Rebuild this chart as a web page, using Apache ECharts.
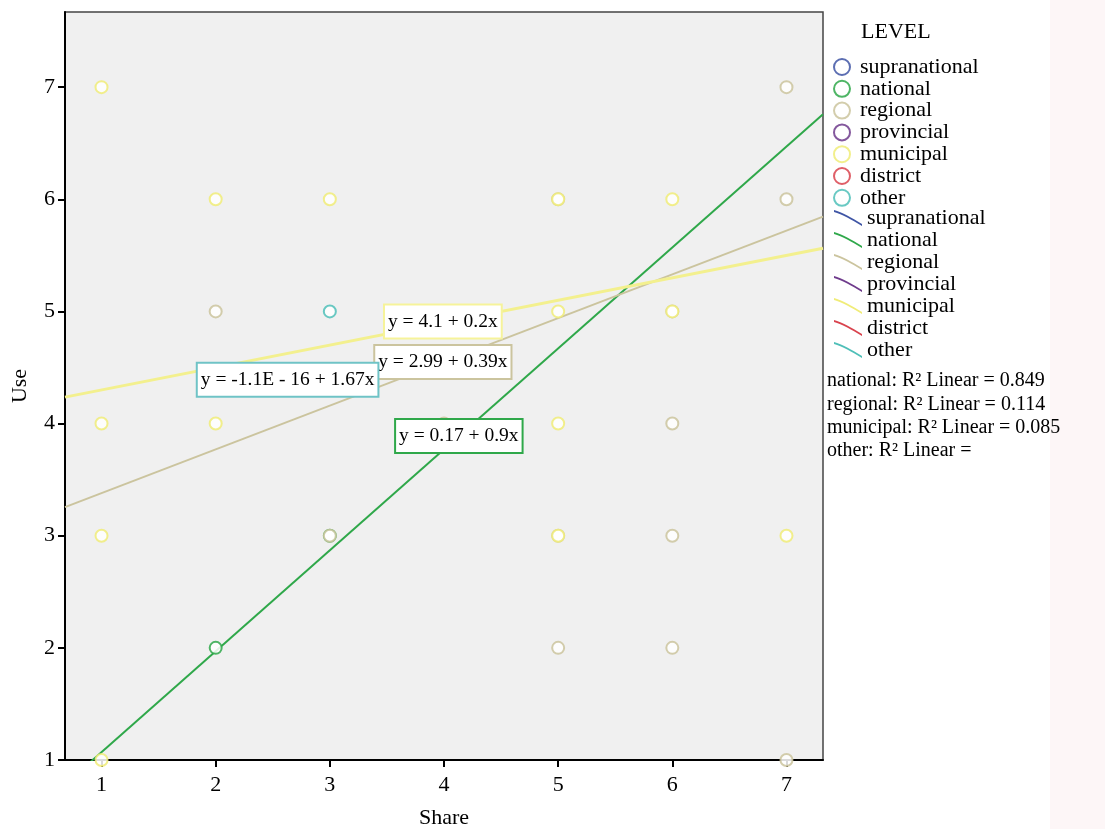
<!DOCTYPE html>
<html>
<head>
<meta charset="utf-8">
<script src="https://cdn.jsdelivr.net/npm/echarts@6.0.0/dist/echarts.min.js"></script>
<style>
  html, body { margin: 0; padding: 0; background: #fff; }
  #main { width: 1105px; height: 829px; }
</style>
</head>
<body>
<div id="main"></div>
<script>
  // groups (LEVEL)
  const levels = ['supranational', 'national', 'regional', 'provincial', 'municipal', 'district', 'other'];
  const levelColors = ['#3f55a5', '#2fa84a', '#cbc49e', '#6f3b8c', '#f0ec78', '#d9434e', '#4fbfb8'];

  // observed points [Share, Use]
  const nationalPts = [[2, 2], [3, 3]];
  const regionalPts = [[7, 7], [5, 6], [7, 6], [2, 5], [6, 5], [4, 4], [6, 4], [3, 3], [5, 3], [6, 3], [5, 2], [6, 2], [7, 1]];
  const municipalPts = [[1, 7], [2, 6], [3, 6], [5, 6], [6, 6], [5, 5], [6, 5], [1, 4], [2, 4], [5, 4], [1, 3], [5, 3], [7, 3], [1, 1]];
  const otherPts = [[3, 5]];

  // fitted lines: intercept, slope
  const fitLevels = ['national', 'regional', 'municipal'];
  const fitIntercepts = [0.17, 2.99, 4.1];
  const fitSlopes = [0.9, 0.39, 0.2];
  const fitLabels = ['y = 0.17 + 0.9x', 'y = 2.99 + 0.39x', 'y = 4.1 + 0.2x'];
  const otherLabel = 'y = -1.1E - 16 + 1.67x';
  const r2Lines = ['national: R\u00b2 Linear = 0.849', 'regional: R\u00b2 Linear = 0.114', 'municipal: R\u00b2 Linear = 0.085', 'other: R\u00b2 Linear ='];

  // ticks
  const xTicks = [1, 2, 3, 4, 5, 6, 7];
  const yTicks = [1, 2, 3, 4, 5, 6, 7];

  const xMin = 0.68, xMax = 7.32, yMin = 1, yMax = 7.67;
  // where the equation boxes sit (data coords)
  const labelAt = { national: [4.13, 3.89], regional: [3.99, 4.55], municipal: [3.99, 4.91], other: [2.63, 4.39] };

  const serif = 'Liberation Serif, Times New Roman, serif';
  const pointsOf = { national: nationalPts, regional: regionalPts, municipal: municipalPts, other: otherPts };

  function eqLabel(text, color) {
    return {
      show: true,
      position: 'inside',
      formatter: text,
      color: '#000',
      fontFamily: serif,
      fontSize: 19.5,
      backgroundColor: '#fff',
      borderColor: color,
      borderWidth: 2,
      padding: [7, 3, 5, 3]
    };
  }

  const series = [];
  // circles
  levels.forEach(function (lv, i) {
    const s = {
      name: lv,
      type: 'scatter',
      symbol: 'emptyCircle',
      symbolSize: 12,
      data: pointsOf[lv] || [],
      itemStyle: { color: levelColors[i], borderColor: levelColors[i], borderWidth: 2, opacity: 0.85 },
      z: 3
    };
    if (lv === 'other') {
      s.markPoint = {
        symbol: 'rect',
        symbolSize: 1,
        itemStyle: { color: 'rgba(0,0,0,0)' },
        label: eqLabel(otherLabel, '#6fc3c6'),
        data: [{ coord: labelAt.other }],
        z: 9
      };
    }
    series.push(s);
  });
  // fit lines
  levels.forEach(function (lv, i) {
    const k = fitLevels.indexOf(lv);
    const s = {
      name: lv + ' line',
      type: 'line',
      showSymbol: false,
      clip: true,
      color: levelColors[i],
      lineStyle: { color: lv === 'municipal' ? '#f3f08e' : levelColors[i], width: lv === 'municipal' ? 3 : 2 },
      data: [],
      z: 2
    };
    if (k >= 0) {
      s.data = [
        [xMin, fitIntercepts[k] + fitSlopes[k] * xMin],
        [xMax, fitIntercepts[k] + fitSlopes[k] * xMax]
      ];
      s.markPoint = {
        symbol: 'rect',
        symbolSize: 1,
        itemStyle: { color: 'rgba(0,0,0,0)' },
        label: eqLabel(fitLabels[k], lv === 'municipal' ? '#f6f39a' : levelColors[i]),
        data: [{ coord: labelAt[lv] }],
        z: 8
      };
    }
    series.push(s);
  });

  const chart = echarts.init(document.getElementById('main'));
  var option = {
    backgroundColor: '#fff',
    animation: false,
    grid: {
      left: 65, top: 12, right: 282, bottom: 69,
      outerBoundsMode: 'none',
      containLabel: false,
      show: true,
      backgroundColor: '#f0f0f0',
      borderColor: '#444',
      borderWidth: 1.5
    },
    xAxis: {
      type: 'value',
      min: xMin, max: xMax,
      name: 'Share',
      nameLocation: 'middle',
      nameGap: 47,
      nameTextStyle: { fontFamily: serif, fontSize: 22, color: '#000' },
      axisLine: { lineStyle: { color: '#000', width: 2 } },
      axisTick: { show: true, length: 7, customValues: xTicks, lineStyle: { color: '#000', width: 2 } },
      axisLabel: { customValues: xTicks, fontFamily: serif, fontSize: 22, color: '#000', margin: 14 },
      splitLine: { show: false }
    },
    yAxis: {
      type: 'value',
      min: yMin, max: yMax,
      name: 'Use',
      nameLocation: 'middle',
      nameGap: 34,
      nameRotate: 90,
      nameTextStyle: { fontFamily: serif, fontSize: 22, color: '#000' },
      axisLine: { lineStyle: { color: '#000', width: 2 } },
      axisTick: { show: true, length: 7, customValues: yTicks, lineStyle: { color: '#000', width: 2 } },
      axisLabel: { customValues: yTicks, fontFamily: serif, fontSize: 22, color: '#000', margin: 10 },
      splitLine: { show: false }
    },
    legend: [{
      orient: 'vertical',
      left: 828, top: 51,
      itemWidth: 26, itemHeight: 16,
      itemGap: -0.2,
      selectedMode: false,
      icon: 'emptyCircle',
      itemStyle: { borderWidth: 2 },
      textStyle: { fontFamily: serif, fontSize: 22, color: '#000' },
      data: levels
    }, {
      orient: 'vertical',
      left: 829, top: 202,
      itemWidth: 28, itemHeight: 16,
      itemGap: 0,
      selectedMode: false,
      icon: 'path://M0,0 C8,2 18,8 28,14 L28,16 C18,10 8,4 0,2 Z',
      textStyle: { fontFamily: serif, fontSize: 22, color: '#000' },
      formatter: function (name) { return name.replace(' line', ''); },
      data: levels.map(function (lv) { return lv + ' line'; })
    }],
    graphic: [
      { type: 'rect', left: 1050, top: 0, shape: { width: 55, height: 829 }, style: { fill: '#fdf6f7' }, z: -1 },
      { type: 'text', left: 861, top: 21, style: { text: 'LEVEL', font: '22px ' + serif, fill: '#000' } },
      {
        type: 'group', left: 827, top: 371,
        children: r2Lines.map(function (t, i) {
          return { type: 'text', top: i * 23.4, style: { text: t, font: '20px ' + serif, fill: '#000' } };
        })
      }
    ],
    series: series
  };
  chart.setOption(option);
</script>
</body>
</html>
